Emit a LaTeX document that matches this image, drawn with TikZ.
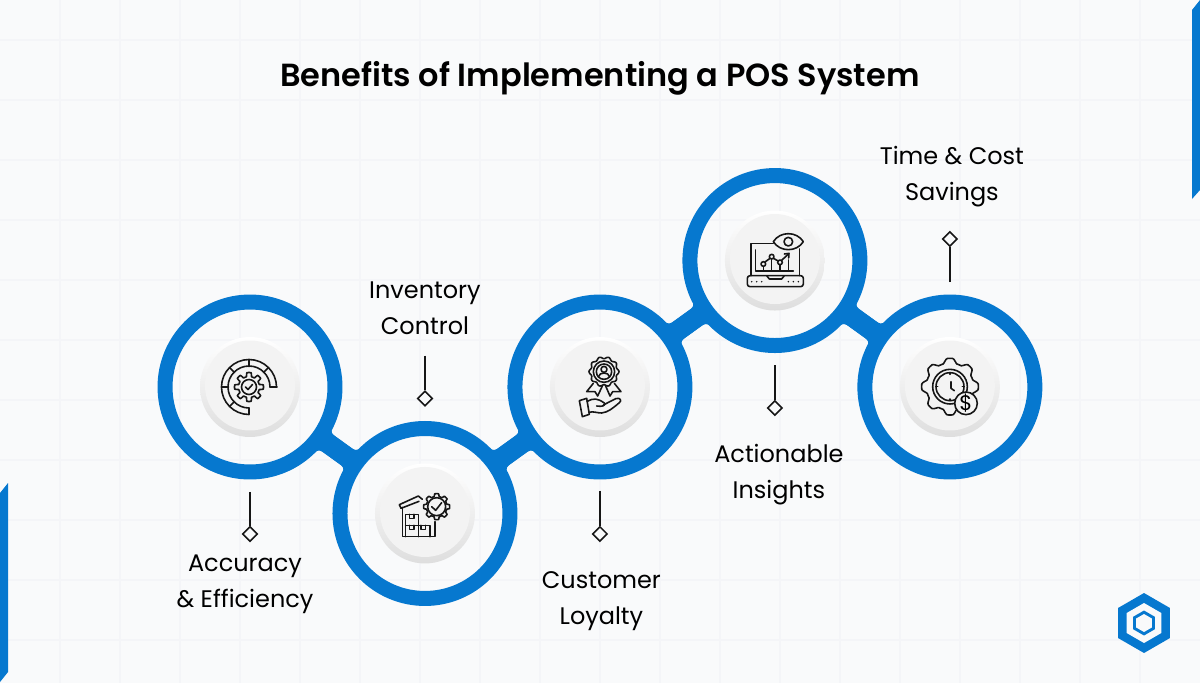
\documentclass[tikz,border=0pt]{standalone}
\usepackage{fontspec}
\setmainfont{Poppins}
\newfontfamily\titlefont{Poppins SemiBold}
\usetikzlibrary{shapes.geometric,calc}
\definecolor{brandblue}{HTML}{0678CF}
\definecolor{pagebg}{HTML}{F9FAFB}
\definecolor{gridtone}{HTML}{F4F5F8}
\definecolor{facetone}{HTML}{F3F3F3}
\definecolor{inktone}{HTML}{161616}
\newcommand{\gearcurve}[3]{plot[domain=0:360,samples=129] (\x:{#1+#2*min(1,max(-1,#3*cos(8*\x)))})}
\begin{document}
\begin{tikzpicture}[x=0.02cm, y=-0.02cm, node distance=3.5cm,
    ring/.style={circle, draw=brandblue, line width=0.3cm, minimum size=3.4cm, inner sep=0pt, outer sep=0pt},
    bridge/.style={draw=brandblue, line width=0.4cm},
    button/.style={circle, top color=white, bottom color=black!13, minimum size=2cm, inner sep=0pt, outer sep=0pt},
    buttonface/.style={circle, fill=facetone, minimum size=1.8cm, inner sep=0pt, outer sep=0pt},
    pin/.style={diamond, draw=inktone, fill=pagebg, line width=0.9pt, minimum size=0.3cm, inner sep=0pt},
    stem/.style={draw=inktone, line width=0.9pt},
    caption/.style={align=center, text=black, font=\fontsize{13.65}{20.5}\selectfont},
    iconline/.style={draw=inktone, line width=0.9pt, line join=round, line cap=round},
    zoomed/.style={x=0.00667cm, y=-0.00667cm},
    hexagon/.style={regular polygon, regular polygon sides=6, regular polygon rotate=30, shape border rotate=30, inner sep=0pt, outer sep=0pt}]
    % Page
    \useasboundingbox (0,0) rectangle (1200,683);
    \fill[pagebg] (0,0) rectangle (1200,683);
    \foreach \gx in {60,120,...,1140}
        \draw[gridtone, line width=1pt] (\gx,0) -- (\gx,683);
    \foreach \gy in {40,100,...,640}
        \draw[gridtone, line width=1pt] (0,\gy) -- (1200,\gy);
    \fill[brandblue] (0,493) -- (8,483) -- (8,672) -- (0,682) -- cycle;
    \fill[brandblue] (1192,10) -- (1200,0) -- (1200,190) -- (1192,199) -- cycle;

    % Title
    \node[font=\titlefont\fontsize{18.2}{22}\selectfont] (title) at (600,78) {Benefits of Implementing a POS System};

    % Nodes
    \node[ring] (ring1) at (250,387) {};
    \node[ring, right of=ring1, yshift=-2.53cm] (ring2) {};
    \node[ring, right of=ring2, yshift=2.53cm] (ring3) {};
    \node[ring, right of=ring3, yshift=2.53cm] (ring4) {};
    \node[ring, right of=ring4, yshift=-2.53cm] (ring5) {};
    \foreach \n in {1,...,5} {
        \node[button] (button\n) at (ring\n) {};
        \node[buttonface, yshift=0.03cm] (face\n) at (ring\n) {};
    }

    % Path
    \foreach \a/\b/\ang in {ring1/ring2/-35.7, ring2/ring3/35.7, ring3/ring4/35.7, ring4/ring5/-35.7} {
        \draw[bridge] (\a) -- (\b);
        \fill[brandblue, shift={($(\a)!0.5!(\b)$)}, rotate=\ang]
            (-19,17) .. controls (-15,10) .. (-8,10) -- (8,10) .. controls (15,10) .. (19,17)
            -- (19,-17) .. controls (15,-10) .. (8,-10) -- (-8,-10) .. controls (-15,-10) .. (-19,-17) -- cycle;
    }

    % Pins
    \node[pin, below of=ring1, node distance=2.94cm] (pin1) {};
    \node[pin, above of=ring2, node distance=2.3cm] (pin2) {};
    \node[pin, below of=ring3, node distance=2.94cm] (pin3) {};
    \node[pin, below of=ring4, node distance=2.95cm] (pin4) {};
    \node[pin, above of=ring5, node distance=2.96cm] (pin5) {};
    \coordinate[above of=pin1, node distance=0.84cm] (stem1);
    \coordinate[above of=pin2, node distance=0.86cm] (stem2);
    \coordinate[above of=pin3, node distance=0.86cm] (stem3);
    \coordinate[above of=pin4, node distance=0.86cm] (stem4);
    \coordinate[below of=pin5, node distance=0.86cm] (stem5);
    \foreach \n in {1,...,5}
        \draw[stem] (stem\n) -- (pin\n);

    % Labels
    \node[caption, below of=pin1, node distance=1.0cm, xshift=-0.1cm] (label1) {Accuracy\\\& Efficiency};
    \node[caption, above of=pin2, node distance=1.8cm] (label2) {Inventory\\Control};
    \node[caption, below of=pin3, node distance=1.34cm, xshift=0.03cm] (label3) {Customer\\Loyalty};
    \node[caption, below of=pin4, node distance=1.34cm, xshift=0.08cm] (label4) {Actionable\\Insights};
    \node[caption, above of=pin5, node distance=1.24cm, xshift=0.04cm] (label5) {Time \& Cost\\Savings};

    % Icon: dial and gear
    \begin{scope}[shift={(249,387)}]
        \draw[iconline] (27.5,0) arc[start angle=0, end angle=-270, radius=27.5] -- (0,21);
        \draw[iconline] (21,0) arc[start angle=0, end angle=-270, radius=21];
        \draw[iconline] (21,0) -- (28,0);
        \foreach \t in {135,180,-135,-90,-45}
            \draw[iconline] (\t:20.5) -- (\t:27.5);
        \draw[iconline] \gearcurve{12.5}{2}{3} -- cycle;
        \draw[iconline] (0,0) circle[radius=7.5];
        \draw[iconline] (-3.5,0) -- (-1,2.5) -- (3.5,-2.5);
    \end{scope}

    % Icon: warehouse and gear
    \begin{scope}[shift={(370,460)}, zoomed]
        \draw[iconline, shift={(200,140)}] \gearcurve{35}{4}{3} -- cycle;
        \draw[iconline] (200,140) circle[radius=27];
        \draw[iconline] (185,140) -- (197,151) -- (215,128);
        \draw[iconline] (157,118) -- (145,108) -- (88,134) -- (93,145) -- (147,124);
        \draw[iconline] (97,142) -- (97,230) -- (195,230) -- (195,185);
        \draw[iconline] (107,230) -- (107,163) -- (145,163) -- (145,230);
        \draw[iconline] (107,196) -- (180,196) -- (180,230);
        \foreach \bx/\by in {118/163, 118/196, 153/196}
            \draw[iconline] (\bx,\by) -- ++(0,12) -- ++(14,0) -- ++(0,-12);
    \end{scope}

    % Icon: ribbon and hand
    \begin{scope}[shift={(545,335)}, zoomed]
        \draw[iconline, shift={(177,110)}] plot[domain=0:360,samples=121] (\x:{42+3*cos(10*\x)}) -- cycle;
        \draw[iconline] (177,110) circle[radius=32];
        \draw[iconline] (177,110) circle[radius=23];
        \draw[iconline] (177,103) circle[radius=9];
        \draw[iconline] (160,126) .. controls (162,110) and (192,110) .. (194,126);
        \draw[iconline] (145,145) -- (125,170) -- (150,170) -- (158,183) -- (172,153);
        \draw[iconline] (208,145) -- (228,170) -- (203,170) -- (195,183) -- (182,153);
        \draw[iconline] (103,197) -- (125,190) -- (133,238) -- (112,245) -- cycle;
        \draw[iconline] (126,200) .. controls (145,188) and (158,190) .. (178,204) .. controls (182,212) and (172,216) .. (155,213);
        \draw[iconline] (175,210) -- (212,191) .. controls (226,186) and (232,198) .. (222,204)
            .. controls (205,218) and (190,232) .. (170,234) .. controls (155,234) and (145,228) .. (132,232);
    \end{scope}

    % Icon: laptop and eye
    \begin{scope}[shift={(720,205)}, zoomed]
        \draw[iconline] (160,110) .. controls (180,78) and (230,78) .. (250,110) .. controls (230,142) and (180,142) .. (160,110) -- cycle;
        \draw[iconline] (205,110) circle[radius=13];
        \draw[iconline] (160,115) -- (93,115) -- (93,212);
        \draw[iconline] (238,132) -- (238,212);
        \draw[iconline, rounded corners=1.5pt] (82,212) rectangle (250,245);
        \draw[iconline] (140,212) -- (148,222) -- (185,222) -- (193,212);
        \draw[iconline] (107,135) -- (107,198) -- (220,198);
        \foreach \bx/\by in {130/185, 155/163, 180/180, 205/165}
            \draw[iconline] (\bx,\by) -- (\bx,198);
        \draw[iconline] (130,177) circle[radius=7];
        \draw[iconline] (155,155) circle[radius=7];
        \draw[iconline] (180,172) circle[radius=7];
        \draw[iconline] (135,171) -- (150,160);
        \draw[iconline] (160,160) -- (175,168);
        \draw[iconline] (185,166) -- (205,147);
        \draw[iconline] (193,147) -- (207,145) -- (206,159);
        \foreach \dx in {95,110,125,205,220,235}
            \fill[inktone] (\dx,230) circle[radius=2.5];
    \end{scope}

    % Icon: clock gear and dollar
    \begin{scope}[shift={(895,335)}, zoomed]
        \draw[iconline, shift={(165,155)}] \gearcurve{78}{7}{1.6} -- cycle;
        \draw[iconline] (165,155) circle[radius=52];
        \draw[iconline] (165,155) circle[radius=42];
        \draw[iconline] (168,140) -- (168,160) -- (178,167);
        \foreach \t in {0,90,180,270}
            \draw[iconline] (165,155) ++(\t:37) -- ++(\t:5);
        \node[circle, draw=inktone, fill=facetone, line width=0.9pt, minimum size=0.427cm, inner sep=0pt, font=\fontsize{12}{12}\selectfont] (dollar) at (213,205) {\$};
    \end{scope}

    % Logo
    \node[hexagon, fill=brandblue, minimum size=1.2cm] (logo) at (1144,623) {};
    \node[hexagon, fill=pagebg, minimum size=0.8cm] (logoa) at (logo) {};
    \node[hexagon, fill=brandblue, minimum size=0.5cm] (logob) at (logo) {};
    \node[hexagon, fill=pagebg, minimum size=0.36cm] (logoc) at (logo) {};
\end{tikzpicture}
\end{document}
